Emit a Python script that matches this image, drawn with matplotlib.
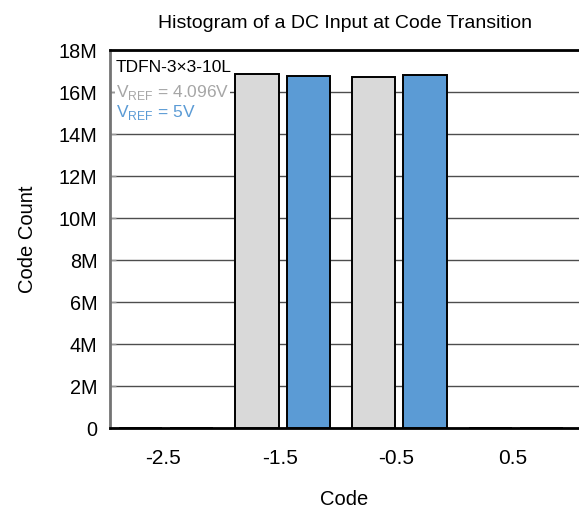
import matplotlib
matplotlib.use("Agg")
import matplotlib.pyplot as plt
import numpy as np

plt.rcParams["font.family"] = ["Liberation Sans", "DejaVu Sans"]

# histogram bins (code) and counts for the two reference voltages
codes = [-2.5, -1.5, -0.5, 0.5]
counts_4v096 = [0.0, 16.84e6, 16.73e6, 0.0]
counts_5v = [0.0, 16.78e6, 16.81e6, 0.0]
code_labels = ["-2.5", "-1.5", "-0.5", "0.5"]
count_ticks = [0, 2e6, 4e6, 6e6, 8e6, 10e6, 12e6, 14e6, 16e6, 18e6]
count_labels = ["0", "2M", "4M", "6M", "8M", "10M", "12M", "14M", "16M", "18M"]

GRAY = "#d9d9d9"
BLUE = "#5b9bd5"
GRAY_TEXT = "#a6a6a6"

fig = plt.figure(figsize=(5.79, 5.09), dpi=100)
ax = fig.add_axes([0.19, 1 - 428 / 509, 0.81, (428 - 50) / 509])

x = np.array(codes)
width = 0.37
ax.bar(x - 0.195, counts_4v096, width, color=GRAY, edgecolor="black",
       linewidth=1.4, zorder=3)
ax.bar(x + 0.245, counts_5v, width, color=BLUE, edgecolor="black",
       linewidth=1.4, zorder=3)

ax.set_xlim(-2.955, 1.066)
ax.set_ylim(0, 18e6)
ax.set_xticks(codes)
ax.set_xticklabels(code_labels)
ax.set_yticks(count_ticks)
ax.set_yticklabels(count_labels)
ax.tick_params(axis="x", length=0, pad=15, labelsize=15)
ax.tick_params(axis="y", direction="in", length=4, width=1, color="0.6",
               pad=9, labelsize=14.3)
ax.grid(axis="y", color="0.3", linewidth=1, zorder=0)

for side in ("top", "bottom"):
    ax.spines[side].set_color("black")
    ax.spines[side].set_linewidth(2)
ax.spines["left"].set_color("0.45")
ax.spines["left"].set_linewidth(2)
ax.spines["right"].set_visible(False)

ax.set_title("Histogram of a DC Input at Code Transition", fontsize=14,
             pad=16)
ax.set_xlabel("Code", fontsize=14.5, labelpad=16)
ax.set_ylabel("Code Count", fontsize=14.5, labelpad=16)

box = dict(facecolor="white", edgecolor="none", pad=0.5)
ax.text(0.013, 0.955, "TDFN-3×3-10L", transform=ax.transAxes, fontsize=12.5,
        va="center", ha="left", bbox=box, zorder=5)
ax.text(0.013, 0.887, r"V$_{\mathregular{REF}}$ = 4.096V", color=GRAY_TEXT,
        transform=ax.transAxes, fontsize=12.5, va="center", ha="left",
        bbox=box, zorder=5)
ax.text(0.013, 0.835, r"V$_{\mathregular{REF}}$ = 5V", color=BLUE,
        transform=ax.transAxes, fontsize=12.5, va="center", ha="left",
        bbox=box, zorder=5)

fig.savefig("out.png", dpi=100)
